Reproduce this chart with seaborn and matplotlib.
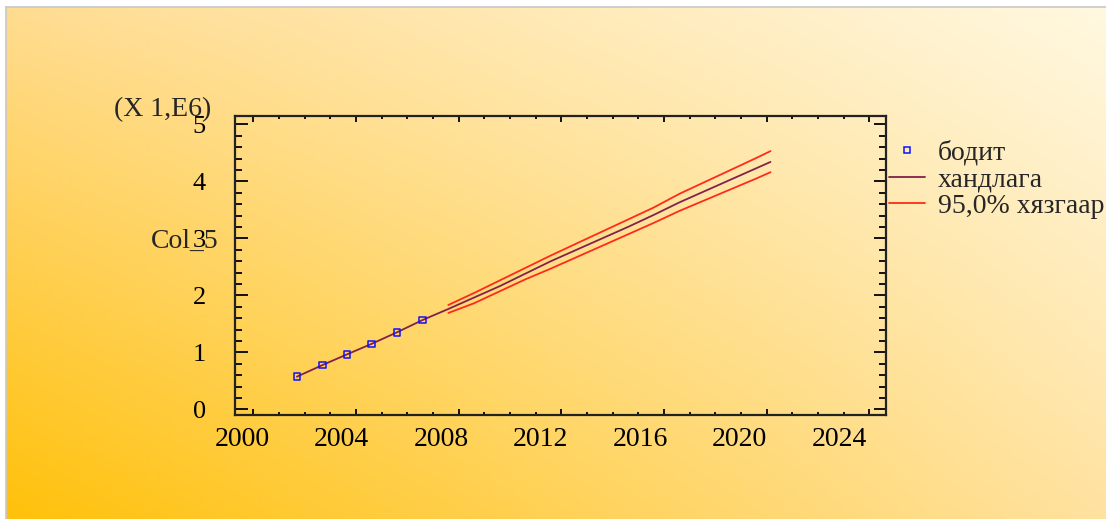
import numpy as np
import pandas as pd
import matplotlib
matplotlib.use("Agg")
import matplotlib.pyplot as plt
import matplotlib.transforms as mtransforms
from matplotlib.ticker import MultipleLocator
from matplotlib.lines import Line2D
import seaborn as sns

# ---- data ----
hist_years = [2001.7, 2002.7, 2003.66, 2004.6, 2005.6, 2006.6]
actual = [0.572, 0.777, 0.965, 1.146, 1.351, 1.567]

fc_years = [2007.6, 2008.6, 2009.6, 2010.6, 2011.6, 2012.6, 2013.6,
            2014.6, 2015.6, 2016.6, 2017.6, 2018.6, 2019.6, 2020.15]
forecast = [1.76, 1.96, 2.16, 2.38, 2.60, 2.80, 3.00,
            3.20, 3.41, 3.63, 3.83, 4.03, 4.23, 4.34]
upper = [1.83, 2.04, 2.26, 2.48, 2.70, 2.91, 3.12,
         3.33, 3.54, 3.78, 3.99, 4.20, 4.41, 4.53]
lower = [1.69, 1.86, 2.07, 2.28, 2.47, 2.67, 2.87,
         3.07, 3.27, 3.48, 3.67, 3.86, 4.05, 4.16]

x_ticks = [2000, 2004, 2008, 2012, 2016, 2020, 2024]
y_ticks = [0, 1, 2, 3, 4, 5]
labels = ["бодит", "хандлага", "95,0% хязгаар"]

sns.set_style("ticks")
plt.rcParams["font.family"] = ["Liberation Serif", "DejaVu Serif"]

W, H = 1106, 519
fig = plt.figure(figsize=(W / 100, H / 100), dpi=100)
fig.patch.set_facecolor("white")

# ---- gradient background ----
bg = fig.add_axes([6 / W, 0, (W - 6) / W, (H - 7) / H])
ny, nx = 200, 400
u = np.linspace(0, 1, nx)[None, :]
v = np.linspace(0, 1, ny)[:, None]  # 0 = bottom
bl = np.array([255, 193, 10]) / 255
br = np.array([255, 226, 160]) / 255
tl = np.array([255, 220, 145]) / 255
tr = np.array([255, 248, 224]) / 255
img = ((1 - u)[..., None] * (1 - v)[..., None] * bl + u[..., None] * (1 - v)[..., None] * br
       + (1 - u)[..., None] * v[..., None] * tl + u[..., None] * v[..., None] * tr)
bg.imshow(img, origin="lower", aspect="auto", extent=[0, 1, 0, 1])
bg.set_xticks([]); bg.set_yticks([])
for s in ["right", "bottom"]:
    bg.spines[s].set_visible(False)
for s in ["top", "left"]:
    bg.spines[s].set_color("#c8c8c8")
    bg.spines[s].set_linewidth(1.2)

# ---- main axes ----
ax = fig.add_axes([235 / W, 1 - 415 / H, 651 / W, 299 / H])
ax.patch.set_alpha(0)

trend_df = pd.DataFrame({"year": hist_years + fc_years, "value": actual + forecast})
up_df = pd.DataFrame({"year": fc_years, "value": upper})
lo_df = pd.DataFrame({"year": fc_years, "value": lower})
act_df = pd.DataFrame({"year": hist_years, "value": actual})

red = "#ff2a1a"
maroon = "#84204a"
sns.lineplot(data=up_df, x="year", y="value", color=red, lw=1.3, ax=ax, sort=False)
sns.lineplot(data=lo_df, x="year", y="value", color=red, lw=1.3, ax=ax, sort=False)
sns.lineplot(data=trend_df, x="year", y="value", color=maroon, lw=1.3, ax=ax, sort=False)
sns.scatterplot(data=act_df, x="year", y="value", marker="s", s=22,
                facecolor="none", edgecolor="#1010ff", linewidth=1.1, ax=ax, zorder=5)

ax.set_xlim(1999.29, 2024.65)
ax.set_ylim(-0.1, 5.146)
ax.set_xticks(x_ticks)
ax.set_yticks(y_ticks)
ax.xaxis.set_minor_locator(MultipleLocator(1))
ax.yaxis.set_minor_locator(MultipleLocator(0.2))
ax.set_xticklabels([str(t) for t in x_ticks], fontsize=20)
ax.set_yticklabels([str(t) for t in y_ticks], fontsize=19)
ax.tick_params(axis="x", which="both", direction="in", top=True, bottom=True,
               width=1.3, colors="black", pad=9)
ax.tick_params(axis="x", which="major", length=4)
ax.tick_params(axis="x", which="minor", length=2.2)
ax.tick_params(axis="y", which="both", direction="in", left=True, right=True,
               width=1.3, colors="black", pad=21)
ax.tick_params(axis="y", which="major", length=9)
ax.tick_params(axis="y", which="minor", length=5)
for s in ax.spines.values():
    s.set_color("#222222")
    s.set_linewidth(1.6)

ax.set_xlabel("")
ax.set_ylabel("Col_5", rotation=0, fontsize=20, ha="center", va="center")
ax.yaxis.set_label_coords(-0.078, 0.582)

fig.text(114 / W, 1 - 116 / H, "(X 1,E6)", fontsize=20, ha="left", va="baseline")

# the reference draws x tick labels slightly left of their ticks, increasingly so
fig.canvas.draw()
for tick, yr in zip(ax.xaxis.get_major_ticks(), x_ticks):
    dx = -11 - 0.79 * (yr - x_ticks[0])
    off = mtransforms.ScaledTranslation(dx / 100, 0, fig.dpi_scale_trans)
    tick.label1.set_transform(tick.label1.get_transform() + off)

# ---- legend ----
handles = [
    Line2D([], [], ls="none", marker="s", markersize=4, markerfacecolor="none",
           markeredgecolor="#1010ff", markeredgewidth=1.1),
    Line2D([], [], color=maroon, lw=1.3),
    Line2D([], [], color=red, lw=1.3),
]
fig.legend(handles, labels, loc="upper left", bbox_to_anchor=(889 / W, 1 - 140 / H),
           frameon=False, fontsize=20, handlelength=1.3, handletextpad=0.45,
           labelspacing=0.05, borderpad=0, borderaxespad=0)

fig.savefig("out.png", dpi=100)
